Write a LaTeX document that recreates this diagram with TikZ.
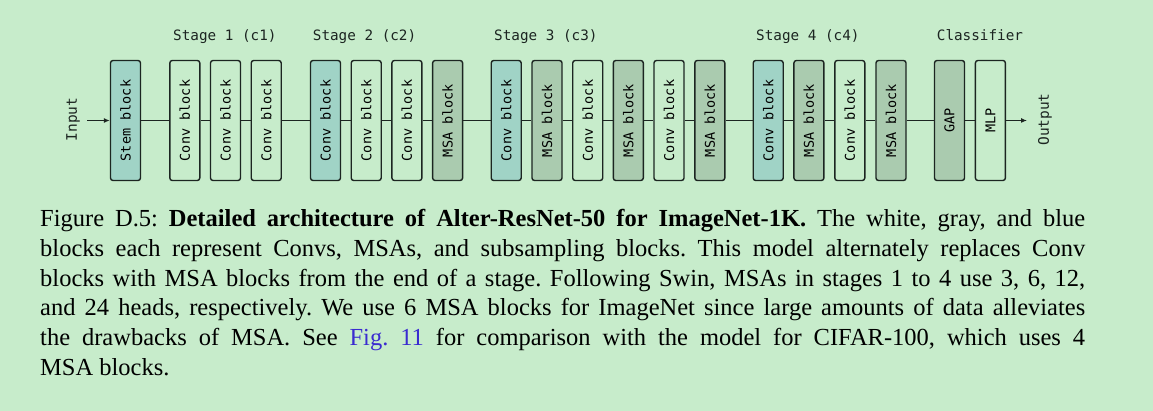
\documentclass[tikz,border=0pt]{standalone}
\usepackage{fontspec}
\setmainfont{Liberation Serif}
\newfontfamily\monofont{DejaVu Sans Mono}
\usetikzlibrary{arrows.meta}
\definecolor{bg}{HTML}{C7ECCB}
\definecolor{subblue}{HTML}{A0D3C6}
\definecolor{msagray}{HTML}{AACBAF}
\definecolor{linkblue}{HTML}{3A2BD0}
\definecolor{ink}{HTML}{1C2521}
\begin{document}
\begin{tikzpicture}[x=1pt,y=-1pt,
  blk/.style={draw=ink, line width=1.4pt, rounded corners=2.5pt, minimum width=30pt, minimum height=120pt, inner sep=0pt, font=\monofont\fontsize{13.5}{14}\selectfont},
  conv/.style={blk, fill=bg},
  sub/.style={blk, fill=subblue},
  msa/.style={blk, fill=msagray},
  link/.style={line width=1.2pt, draw=ink},
  arr/.style={link, -{Latex[length=6pt,width=5pt]}},
  lbl/.style={font=\monofont\fontsize{14.3}{16}\selectfont, anchor=base west, inner sep=0pt, text=ink},
  side/.style={font=\monofont\fontsize{14.5}{16}\selectfont, rotate=90, inner sep=0pt, text=ink}]
\fill[bg] (0,0) rectangle (1153,411);
\useasboundingbox (0,0) rectangle (1153,411);
% blocks
\node[sub]  (stem) at (125.5,120.5) {\rotatebox{90}{Stem block}};
\node[conv] (a1) at (184.8,120.5) {\rotatebox{90}{Conv block}};
\node[conv] (a2) at (225.5,120.5) {\rotatebox{90}{Conv block}};
\node[conv] (a3) at (266.2,120.5) {\rotatebox{90}{Conv block}};
\node[sub]  (b1) at (325.5,120.5) {\rotatebox{90}{Conv block}};
\node[conv] (b2) at (366.2,120.5) {\rotatebox{90}{Conv block}};
\node[conv] (b3) at (406.9,120.5) {\rotatebox{90}{Conv block}};
\node[msa]  (b4) at (447.6,120.5) {\rotatebox{90}{MSA block}};
\node[sub]  (c1) at (506.2,120.5) {\rotatebox{90}{Conv block}};
\node[msa]  (c2) at (547.0,120.5) {\rotatebox{90}{MSA block}};
\node[conv] (c3) at (587.7,120.5) {\rotatebox{90}{Conv block}};
\node[msa]  (c4) at (628.3,120.5) {\rotatebox{90}{MSA block}};
\node[conv] (c5) at (669.0,120.5) {\rotatebox{90}{Conv block}};
\node[msa]  (c6) at (709.8,120.5) {\rotatebox{90}{MSA block}};
\node[sub]  (d1) at (768.2,120.5) {\rotatebox{90}{Conv block}};
\node[msa]  (d2) at (808.9,120.5) {\rotatebox{90}{MSA block}};
\node[conv] (d3) at (849.8,120.5) {\rotatebox{90}{Conv block}};
\node[msa]  (d4) at (891.0,120.5) {\rotatebox{90}{MSA block}};
\node[msa]  (gap) at (949.5,120.5) {\rotatebox{90}{GAP}};
\node[conv] (mlp) at (990.4,120.5) {\rotatebox{90}{MLP}};
% connectors
\draw[link] (stem) -- (a1) -- (a2) -- (a3) -- (b1) -- (b2) -- (b3) -- (b4) -- (c1) -- (c2) -- (c3) -- (c4) -- (c5) -- (c6) -- (d1) -- (d2) -- (d3) -- (d4) -- (gap) -- (mlp);
\coordinate (in) at (87,120.5);
\coordinate (out) at (1027,120.5);
\draw[arr] (in) -- (stem);
\draw[arr] (mlp) -- (out);
\node[side] (inlbl) at (73,119.5) {Input};
\node[side] (outlbl) at (1045,119.5) {Output};
% stage labels
\node[lbl] (s1) at (173,40.7) {Stage 1 (c1)};
\node[lbl] (s2) at (312.7,40.7) {Stage 2 (c2)};
\node[lbl] (s3) at (494,40.7) {Stage 3 (c3)};
\node[lbl] (s4) at (756,40.7) {Stage 4 (c4)};
\node[lbl] (cls) at (936.7,40.7) {Classifier};
% caption
\node[anchor=north west, inner sep=0pt, text width=1045pt, align=justify, text=black,
      font=\fontsize{24.5pt}{29.66pt}\selectfont\frenchspacing] (cap) at (40,205.9)
 {\strut Figure D.5: \textbf{Detailed architecture of Alter-ResNet-50 for ImageNet-1K.} The white, gray, and blue\linebreak
 blocks each represent Convs, MSAs, and subsampling blocks. This model alternately replaces Conv\linebreak
 blocks with MSA blocks from the end of a stage. Following Swin, MSAs in stages 1 to 4 use 3, 6, 12,\linebreak
 and 24 heads, respectively. We use 6 MSA blocks for ImageNet since large amounts of data alleviates\linebreak
 the drawbacks of MSA. See \textcolor{linkblue}{Fig.~11} for comparison with the model for CIFAR-100, which uses 4\linebreak
 MSA blocks.};
\end{tikzpicture}
\end{document}
